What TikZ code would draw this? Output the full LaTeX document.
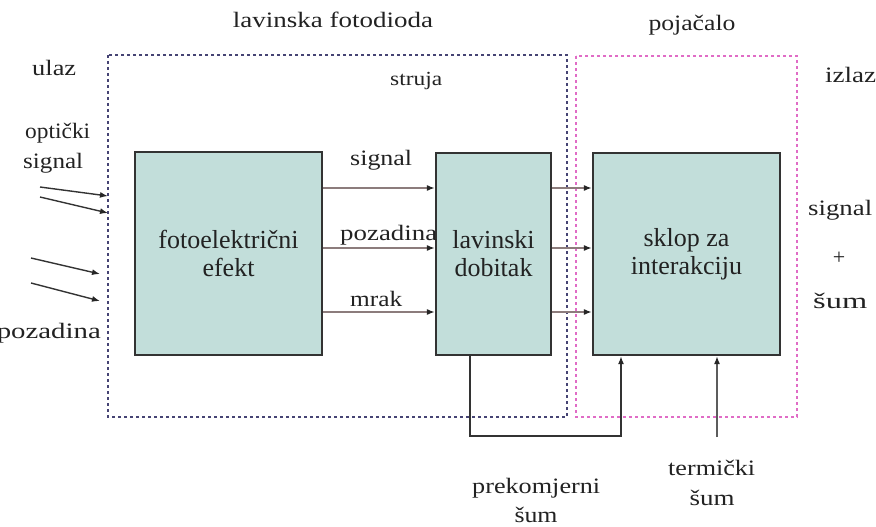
\documentclass[tikz,border=0pt]{standalone}
\usepackage{fontspec}
\setmainfont{Liberation Serif}
\usetikzlibrary{arrows.meta}
\newcommand\fitw[2]{\resizebox{#1pt}{\height}{#2}}
\definecolor{boxfill}{HTML}{C2DEDA}
\definecolor{boxline}{HTML}{333333}
\definecolor{apdline}{HTML}{464474}
\definecolor{ampline}{HTML}{E06CC6}
\definecolor{thinline}{HTML}{8C7C7C}
\definecolor{txt}{HTML}{222222}
\tikzset{
  blk/.style={draw=boxline, fill=boxfill, line width=2.2pt, align=center,
    text=txt, font=\fontsize{26}{28}\selectfont, inner sep=0pt},
  lbl/.style={text=txt, font=\fontsize{22}{26}\selectfont, inner sep=0pt},
  apdframe/.style={draw=apdline, line width=2.8pt, dash pattern=on 2.6pt off 3.4pt},
  ampframe/.style={draw=ampline, line width=2.8pt, dash pattern=on 2.6pt off 3.4pt},
  conn/.style={draw=thinline, line width=1.4pt,
    -{Latex[length=8pt,width=6pt,color=black!85]}},
  inarrow/.style={draw=boxline, line width=1.4pt,
    -{Latex[length=8pt,width=6pt,color=black!85]}},
  noise/.style={draw=boxline, line width=2.2pt,
    -{Latex[length=8pt,width=6pt,color=black!85]}},
}
\begin{document}
\begin{tikzpicture}[x=1pt,y=-1pt]
\useasboundingbox (0,0) rectangle (876,527);

% detector and amplifier frames
\draw[apdframe] (108,55) rectangle (567,417);
\draw[ampframe] (576,56) rectangle (797,417);

% blocks
\node[blk, minimum width=187pt, minimum height=203pt] (fe) at (228.5,253.5)
  {fotoelektrični\\efekt};
\node[blk, minimum width=115pt, minimum height=202pt] (ld) at (493.5,254)
  {lavinski\\dobitak};
\node[blk, minimum width=187pt, minimum height=202pt] (sk) at (686.5,254)
  {sklop za\\interakciju};

% currents between blocks
\foreach \yy in {188,248,312} {
  \draw[conn] (fe.east |- 0,\yy) -- (ld.west |- 0,\yy);
  \draw[conn] (ld.east |- 0,\yy) -- (sk.west |- 0,\yy);
}

% excess noise path and thermal noise
\coordinate (exA) at (470,436);
\coordinate (exB) at (621,436);
\coordinate (th) at (717,437);
\draw[noise] (ld.south -| exA) -- (exA) -- (exB) -- (sk.south -| exB);
\draw[conn, draw=boxline!80] (th) -- (sk.south -| th);

% incoming light
\coordinate (i1a) at (40,187);  \coordinate (i1b) at (108,196);
\coordinate (i2a) at (40,197);  \coordinate (i2b) at (108,213);
\coordinate (i3a) at (31,258);  \coordinate (i3b) at (100,274);
\coordinate (i4a) at (31,283);  \coordinate (i4b) at (100,301);
\draw[inarrow] (i1a) -- (i1b);
\draw[inarrow] (i2a) -- (i2b);
\draw[inarrow] (i3a) -- (i3b);
\draw[inarrow] (i4a) -- (i4b);

% labels
\node[lbl, anchor=base] (tapd) at (333,28) {\fitw{200}{lavinska fotodioda}};
\node[lbl, anchor=base] (tamp) at (692,31) {\fitw{87}{pojačalo}};
\node[lbl, anchor=base west] (tin) at (32,76) {\fitw{44}{ulaz}};
\node[lbl, anchor=base west] (tout) at (825,83) {\fitw{51}{izlaz}};
\node[lbl, anchor=base west, font=\fontsize{20}{24}\selectfont] (tcur) at (390,85) {\fitw{52}{struja}};
\node[lbl, anchor=base west] (topt1) at (25,139) {\fitw{65}{optički}};
\node[lbl, anchor=base west] (topt2) at (23,168) {\fitw{60}{signal}};
\node[lbl, anchor=base east] (tbg) at (101,338) {\fitw{104}{pozadina}};
\node[lbl, anchor=base west] (tsig) at (350,165) {\fitw{62}{signal}};
\node[lbl, anchor=base west] (tpoz) at (340,240) {\fitw{97}{pozadina}};
\node[lbl, anchor=base west] (tmrak) at (350,306) {\fitw{52}{mrak}};
\node[lbl, anchor=base west] (osig) at (808,215) {\fitw{64}{signal}};
\node[lbl] (oplus) at (839,258) {+};
\node[lbl, anchor=base west] (osum) at (813,308) {\fitw{54}{šum}};
\node[lbl, anchor=base west] (tex1) at (472,493) {\fitw{128}{prekomjerni}};
\node[lbl, anchor=base] (tex2) at (536,522) {\fitw{43}{šum}};
\node[lbl, anchor=base west] (tth1) at (668,475) {\fitw{87}{termički}};
\node[lbl, anchor=base] (tth2) at (712,505) {\fitw{45}{šum}};
\end{tikzpicture}
\end{document}
